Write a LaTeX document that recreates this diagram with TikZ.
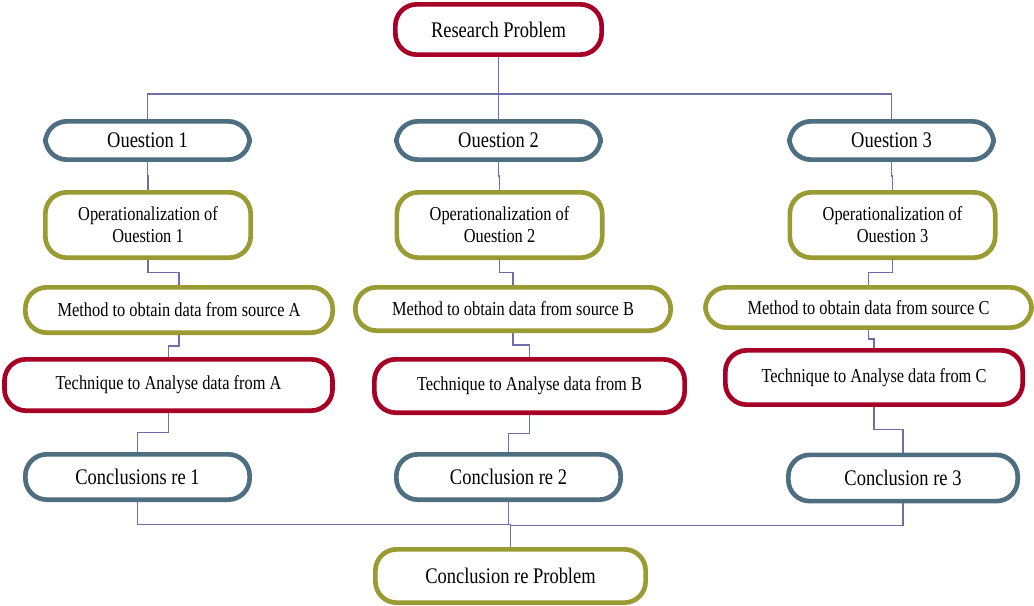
\documentclass[tikz,border=0pt]{standalone}
\usepackage{fontspec}
\setmainfont{Liberation Serif}[FakeStretch=0.83]
\usetikzlibrary{calc,backgrounds}
\definecolor{probred}{RGB}{166,0,38}
\definecolor{qgrey}{RGB}{78,110,130}
\definecolor{opolive}{RGB}{155,155,52}
\definecolor{linkblue}{RGB}{110,110,170}
\tikzset{
  pill/.style={draw,line width=3.5pt,rounded corners=16pt,fill=white,
               align=center,inner sep=2pt},
  pillr/.style={pill,draw=probred},
  pillq/.style={pill,draw=qgrey},
  pillo/.style={pill,draw=opolive},
  bigtxt/.style={font=\fontsize{16.7}{20}\selectfont},
  smalltxt/.style={font=\fontsize{14.8}{16.5}\selectfont},
  link/.style={draw=linkblue,line width=1.1pt},
  elbow/.style={link,to path={|- ($(\tikztostart)!#1!(\tikztotarget)$) -| (\tikztotarget)}},
  elbow/.default=.5,
}

\begin{document}
\begin{tikzpicture}[x=0.75pt,y=-0.75pt]
  \useasboundingbox (0,0) rectangle (1034,606);

  % top of the tree
  \node[pillr,bigtxt,minimum width=154.7,minimum height=37.7] (rp) at (498.5,29.5)
    {Research Problem};

  % one column per question
  \node[pillq,bigtxt,minimum width=153.2,minimum height=28.7] (q1) at (147.5,140.5) {Ouestion 1};
  \node[pillq,bigtxt,minimum width=153.2,minimum height=28.7] (q2) at (498.5,140.5) {Ouestion 2};
  \node[pillq,bigtxt,minimum width=153.2,minimum height=28.7] (q3) at (891.5,140.5) {Ouestion 3};

  \node[pillo,smalltxt,minimum width=154,minimum height=49] (o1) at (148,225)
    {Operationalization of\\Ouestion 1};
  \node[pillo,smalltxt,minimum width=154,minimum height=49] (o2) at (499.5,225)
    {Operationalization of\\Ouestion 2};
  \node[pillo,smalltxt,minimum width=154,minimum height=49] (o3) at (892.5,225)
    {Operationalization of\\Ouestion 3};

  \node[pillo,smalltxt,minimum width=230.5,minimum height=34] (m1) at (179,310)
    {Method to obtain data from source A};
  \node[pillo,smalltxt,minimum width=236.5,minimum height=32.5] (m2) at (513,309)
    {Method to obtain data from source B};
  \node[pillo,smalltxt,minimum width=244.7,minimum height=30.2] (m3) at (868.5,307.5)
    {Method to obtain data from source C};

  \node[pillr,smalltxt,minimum width=246,minimum height=38.5] (t1) at (168.5,385)
    {Technique to Analyse data from A};
  \node[pillr,smalltxt,minimum width=232.7,minimum height=40] (t2) at (529.5,386)
    {Technique to Analyse data from B};
  \node[pillr,smalltxt,minimum width=223,minimum height=40.7] (t3) at (874,377.5)
    {Technique to Analyse data from C};

  \node[pillq,bigtxt,minimum width=168.2,minimum height=34] (c1) at (137.5,477) {Conclusions re 1};
  \node[pillq,bigtxt,minimum width=168.2,minimum height=34] (c2) at (508.5,477) {Conclusion re 2};
  \node[pillq,bigtxt,minimum width=172,minimum height=34.7] (c3) at (903,478) {Conclusion re 3};

  \node[pillo,bigtxt,minimum width=202.7,minimum height=40] (cp) at (510.5,576)
    {Conclusion re Problem};

  % connectors go behind the boxes
  \begin{scope}[on background layer]
    \foreach \q in {q1,q2,q3} \draw[elbow=.6] (rp.south) to (\q.north);
    \foreach \a/\b in {q1/o1,o1/m1,m1/t1,t1/c1,
                       q2/o2,o2/m2,m2/t2,t2/c2,
                       q3/o3,o3/m3,m3/t3,t3/c3}
      \draw[elbow] (\a.south) to (\b.north);
    \foreach \c in {c1,c2,c3} \draw[elbow] (\c.south) to (cp.north);
  \end{scope}
\end{tikzpicture}
\end{document}
